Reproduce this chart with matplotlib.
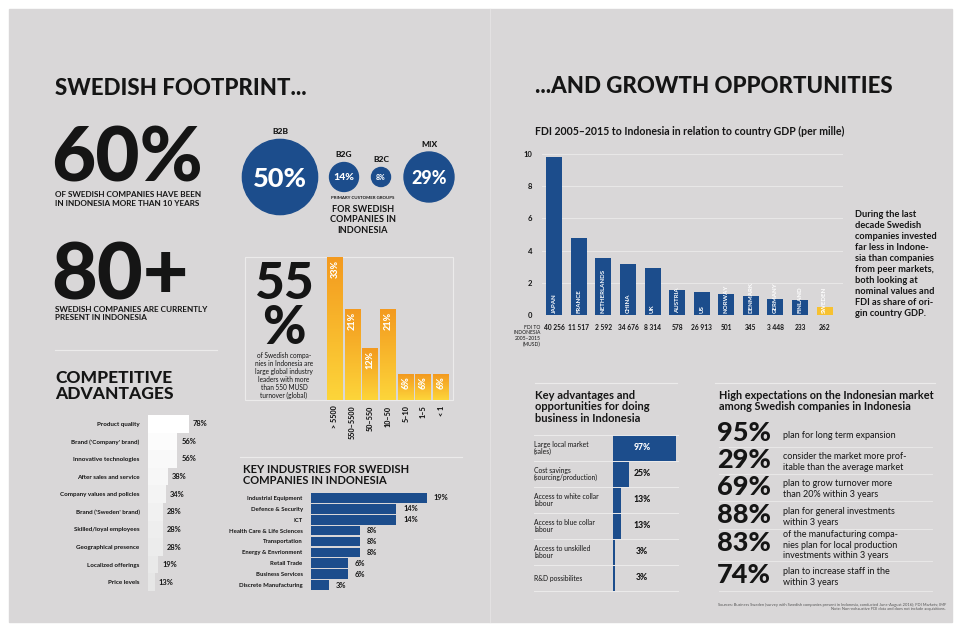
import numpy as np
import matplotlib.pyplot as plt
from matplotlib.patches import Rectangle, Circle
from matplotlib.colors import LinearSegmentedColormap, to_rgb

W, H = 957, 628
BG = '#d9d7d8'
BLUE = '#1c4d8c'
INK = '#151515'
LINE = '#ecebeb'
plt.rcParams['font.family'] = ['Lato', 'DejaVu Sans']

# customer groups
customer_groups = ['B2B', 'B2G', 'B2C', 'MIX']
customer_share = [50, 14, 8, 29]

# turnover of swedish companies (MUSD)
turnover_bands = ['> 5500', '550–5500', '50–550', '10–50', '5–10', '1–5', '< 1']
turnover_share = [33, 21, 12, 21, 6, 6, 6]

# competitive advantages
advantages = ['Product quality', "Brand ('Company' brand)", 'Innovative technologies',
              'After sales and service', 'Company values and policies', "Brand ('Sweden' brand)",
              'Skilled/loyal employees', 'Geographical presence', 'Localized offerings', 'Price levels']
advantage_share = [78, 56, 56, 38, 34, 28, 28, 28, 19, 13]

# key industries
industries = ['Industrial Equipment', 'Defence & Security', 'ICT', 'Health Care & Life Sciences',
              'Transportation', 'Energy & Envrionment', 'Retail Trade', 'Business Services',
              'Discrete Manufacturing']
industry_share = [19, 14, 14, 8, 8, 8, 6, 6, 3]

# FDI per mille of GDP
fdi_countries = ['JAPAN', 'FRANCE', 'NETHERLANDS', 'CHINA', 'UK', 'AUSTRIA', 'US', 'NORWAY',
                 'DENMARK', 'GERMANY', 'FINLAND', 'SWEDEN']
fdi_gdp = [9.83, 4.76, 3.52, 3.15, 2.9, 1.55, 1.45, 1.28, 1.18, 1.0, 0.93, 0.48]
fdi_musd = ['40 256', '11 517', '2 592', '34 676', '8 314', '578', '26 913', '501', '345',
            '3 448', '233', '262']

# opportunities
opportunities = ['Large local market\n(sales)', 'Cost savings\n(sourcing/production)',
                 'Access to white collar\nlabour', 'Access to blue collar\nlabour',
                 'Access to unskilled\nlabour', 'R&D possibilites']
opportunity_share = [97, 25, 13, 13, 3, 3]

# expectations
expect_pct = [95, 29, 69, 88, 83, 74]
expect_text = ['plan for long term expansion',
               'consider the market more prof-\nitable than the average market',
               'plan to grow turnover more\nthan 20% within 3 years',
               'plan for general investments\nwithin 3 years',
               'of the manufacturing compa-\nnies plan for local production\ninvestments within 3 years',
               'plan to increase staff in the\nwithin 3 years']

fig = plt.figure(figsize=(W / 100, H / 100), dpi=100)
fig.patch.set_facecolor('white')
page = fig.add_axes([0, 0, 1, 1])
page.set_xlim(0, W)
page.set_ylim(H, 0)
page.axis('off')


def panel(x0, y0, x1, y1):
    ax = fig.add_axes([x0 / W, 1 - y1 / H, (x1 - x0) / W, (y1 - y0) / H])
    ax.set_facecolor('none')
    for s in ax.spines.values():
        s.set_visible(False)
    ax.tick_params(length=0)
    return ax


# page background + fold
page.add_patch(Rectangle((9, 9), 943, 613, color=BG, zorder=0))
page.plot([490, 490], [9, 622], color='#e3e1e2', lw=0.8)

# ---- left page ----
page.text(55, 95, 'SWEDISH FOOTPRINT...', fontsize=16, weight='black', color=INK)
page.text(51, 182, '60%', fontsize=55, weight='black', color=INK)
page.text(55, 191, 'OF SWEDISH COMPANIES HAVE BEEN\nIN INDONESIA MORE THAN 10 YEARS',
          fontsize=5.9, weight='bold', color=INK, va='top', linespacing=1.25)
page.text(51, 299, '80+', fontsize=57, weight='black', color=INK)
page.text(55, 306, 'SWEDISH COMPANIES ARE CURRENTLY\nPRESENT IN INDONESIA',
          fontsize=5.9, weight='bold', color=INK, va='top', linespacing=1.25)
page.plot([55, 217], [350, 350], color=LINE, lw=0.8)

# customer group circles
cx = [280, 344, 381, 429]
for x, g, s in zip(cx, customer_groups, customer_share):
    r = 2.0 * s ** 0.75
    page.add_patch(Circle((x, 177), r, color=BLUE, zorder=2))
    page.text(x, 177 + r * 0.05, f'{s}%', color='white', weight='black', fontsize=r * 0.52,
              ha='center', va='center', zorder=3)
    page.text(x, 177 - r - 8, g, fontsize=6, weight='black', color=INK, ha='center', va='center')
page.text(363, 199, 'PRIMARY CUSTOMER GROUPS', fontsize=3.2, weight='bold', color=INK, ha='center')
page.text(363, 205, 'FOR SWEDISH\nCOMPANIES IN\nINDONESIA', fontsize=6.6, weight='bold', color=INK,
          ha='center', va='top', linespacing=1.2)

# 55% box
page.add_patch(Rectangle((245, 257), 208, 143, fill=False, ec=LINE, lw=0.8))
page.text(284, 299, '55', fontsize=37, weight='black', color=INK, ha='center')
page.text(284, 344, '%', fontsize=38, weight='black', color=INK, ha='center')
page.text(284, 352, 'of Swedish compa-\nnies in Indonesia are\nlarge global industry\nleaders with more\n'
          'than 550 MUSD\nturnover (global)', fontsize=4.7, color=INK, ha='center', va='top',
          linespacing=1.15)

sun = LinearSegmentedColormap.from_list('sun', ['#fdd53a', '#f39a1f'])
ax = panel(326, 257, 450, 400)
grad = np.linspace(0, 1, 64).reshape(-1, 1)
for i, v in enumerate(turnover_share):
    ax.imshow(grad, extent=[i - 0.45, i + 0.45, 0, v], origin='lower', cmap=sun, aspect='auto')
    ax.text(i, v - 0.6, f'{v}%', rotation=90, ha='center', va='top', color='white',
            weight='black', fontsize=6.5)
ax.set_xlim(-0.5, len(turnover_share) - 0.5)
ax.set_ylim(0, 33)
ax.set_yticks([])
ax.set_xticks(range(len(turnover_bands)))
ax.set_xticklabels(turnover_bands, rotation=90, fontsize=5.2, weight='black', color=INK)
ax.tick_params(axis='x', pad=4)

page.plot([240, 462], [457, 457], color=LINE, lw=0.8)

# competitive advantages
page.text(55, 386, 'COMPETITIVE\nADVANTAGES', fontsize=12.5, weight='black', color=INK,
          va='center', linespacing=1.0)
ax = panel(148, 415, 200, 591)
shades = [tuple(1 - (1 - c) * k for c in to_rgb('#e6e6e6'))
          for k in np.linspace(0, 1, len(advantages))]
ax.barh(range(len(advantages)), advantage_share, height=1.0, color=shades)
for i, v in enumerate(advantage_share):
    ax.text(v + 8, i, f'{v}%', va='center', fontsize=5.4, weight='bold', color=INK)
ax.set_xlim(0, 100)
ax.set_ylim(len(advantages) - 0.5, -0.5)
ax.set_xticks([])
ax.set_yticks(range(len(advantages)))
ax.set_yticklabels(advantages, fontsize=4.5, weight='bold', color=INK)
ax.tick_params(axis='y', pad=6)

# key industries
page.text(243, 475, 'KEY INDUSTRIES FOR SWEDISH\nCOMPANIES IN INDONESIA', fontsize=8, weight='bold',
          color=INK, va='center', linespacing=1.1)
ax = panel(311, 492.5, 433, 590.5)
ax.barh(range(len(industries)), industry_share, height=0.88, color=BLUE)
for i, v in enumerate(industry_share):
    ax.text(v + 1.1, i, f'{v}%', va='center', fontsize=5.4, weight='bold', color=INK)
ax.set_xlim(0, 20)
ax.set_ylim(len(industries) - 0.5, -0.5)
ax.set_xticks([])
ax.set_yticks(range(len(industries)))
ax.set_yticklabels(industries, fontsize=4.3, weight='bold', color=INK)
ax.tick_params(axis='y', pad=6)

# ---- right page ----
page.text(535, 93, '...AND GROWTH OPPORTUNITIES', fontsize=16, weight='black', color=INK)
page.text(535, 131, 'FDI 2005–2015 to Indonesia in relation to country GDP (per mille)',
          fontsize=7.6, weight='bold', color=INK, va='center')

ax = panel(542, 154, 843, 315)
for yv in [2, 4, 6, 8, 10]:
    ax.axhline(yv, color=LINE, lw=0.6, zorder=0)
xs = np.arange(len(fdi_countries))
cols = [BLUE] * (len(fdi_countries) - 1) + ['#f7c130']
ax.bar(xs, fdi_gdp, width=0.65, color=cols, zorder=2)
for i, (c, m) in enumerate(zip(fdi_countries, fdi_musd)):
    ax.text(i, 0.15, c, rotation=90, ha='center', va='bottom', color='white', fontsize=4.4,
            weight='bold', zorder=3)
    ax.text(i, -0.8, m, ha='center', va='center', color=INK, fontsize=4.8, weight='bold',
            clip_on=False)
ax.text(-0.55, -0.6, 'FDI TO\nINDONESIA\n2005–2015\n(MUSD)', ha='right', va='top', fontsize=3.6,
        color=INK, linespacing=1.2)
ax.set_xlim(-0.5, 11.75)
ax.set_ylim(0, 10)
ax.set_xticks([])
ax.set_yticks([0, 2, 4, 6, 8, 10])
ax.set_yticklabels(['0', '2', '4', '6', '8', '10'], fontsize=5.5, weight='bold', color=INK)
ax.tick_params(axis='y', pad=7)

page.text(855, 210, 'During the last\ndecade Swedish\ncompanies invested\nfar less in Indone-\n'
          'sia than companies\nfrom peer markets,\nboth looking at\nnominal values and\n'
          'FDI as share of ori-\ngin country GDP.', fontsize=6.7, weight='bold', color=INK,
          va='top', linespacing=1.28)

# key advantages table
page.plot([535, 677], [383, 383], color=LINE, lw=0.8)
page.text(535, 407, 'Key advantages and\nopportunities for doing\nbusiness in Indonesia', fontsize=8,
          weight='bold', color=INK, va='center', linespacing=1.1)
ax = panel(613, 435, 678, 591)
ax.barh(range(len(opportunities)), opportunity_share, height=1.0, color=BLUE)
lab_x = -1.215
for i, (o, v) in enumerate(zip(opportunities, opportunity_share)):
    ax.text(lab_x, i, o, transform=ax.get_yaxis_transform(), va='center', fontsize=4.9,
            color=INK, linespacing=1.0)
    ax.text(0.45, i, f'{v}%', transform=ax.get_yaxis_transform(), va='center', ha='center',
            fontsize=6.2, weight='black', color='white' if v > 50 else INK)
    ax.plot([lab_x, 1.0], [i + 0.5, i + 0.5], transform=ax.get_yaxis_transform(), color=LINE,
            lw=0.7, clip_on=False)
ax.plot([lab_x, 1.0], [-0.5, -0.5], transform=ax.get_yaxis_transform(), color=LINE, lw=0.7,
        clip_on=False)
ax.set_xlim(0, 100)
ax.set_ylim(len(opportunities) - 0.5, -0.5)
ax.set_xticks([])
ax.set_yticks([])

# expectations
page.plot([715, 935], [383, 383], color=LINE, lw=0.8)
page.text(719, 401, 'High expectations on the Indonesian market\namong Swedish companies in Indonesia',
          fontsize=7.8, weight='bold', color=INK, va='center', linespacing=1.1)
row_y = [433, 460, 487, 515, 543, 575]
sep_y = [447, 474, 501, 529, 561, 591]
for y, p, t, s in zip(row_y, expect_pct, expect_text, sep_y):
    page.text(717, y + 8, f'{p}%', fontsize=19.5, weight='black', color=INK, va='baseline')
    page.text(783, y + 2, t, fontsize=6.5, color=INK, va='center', linespacing=1.15)
    page.plot([719, 932], [s, s], color=LINE, lw=0.6)

page.text(946, 607, 'Sources: Business Sweden (survey with Swedish companies present in Indonesia, '
          'conducted June-August 2016); FDI Markets; IMF\nNote: Non-exhaustive FDI data and does '
          'not include acquisitions.', fontsize=2.9, color='#555555', ha='right', va='center',
          multialignment='right', linespacing=1.3)

fig.savefig('out.png', dpi=100, facecolor=fig.get_facecolor())
